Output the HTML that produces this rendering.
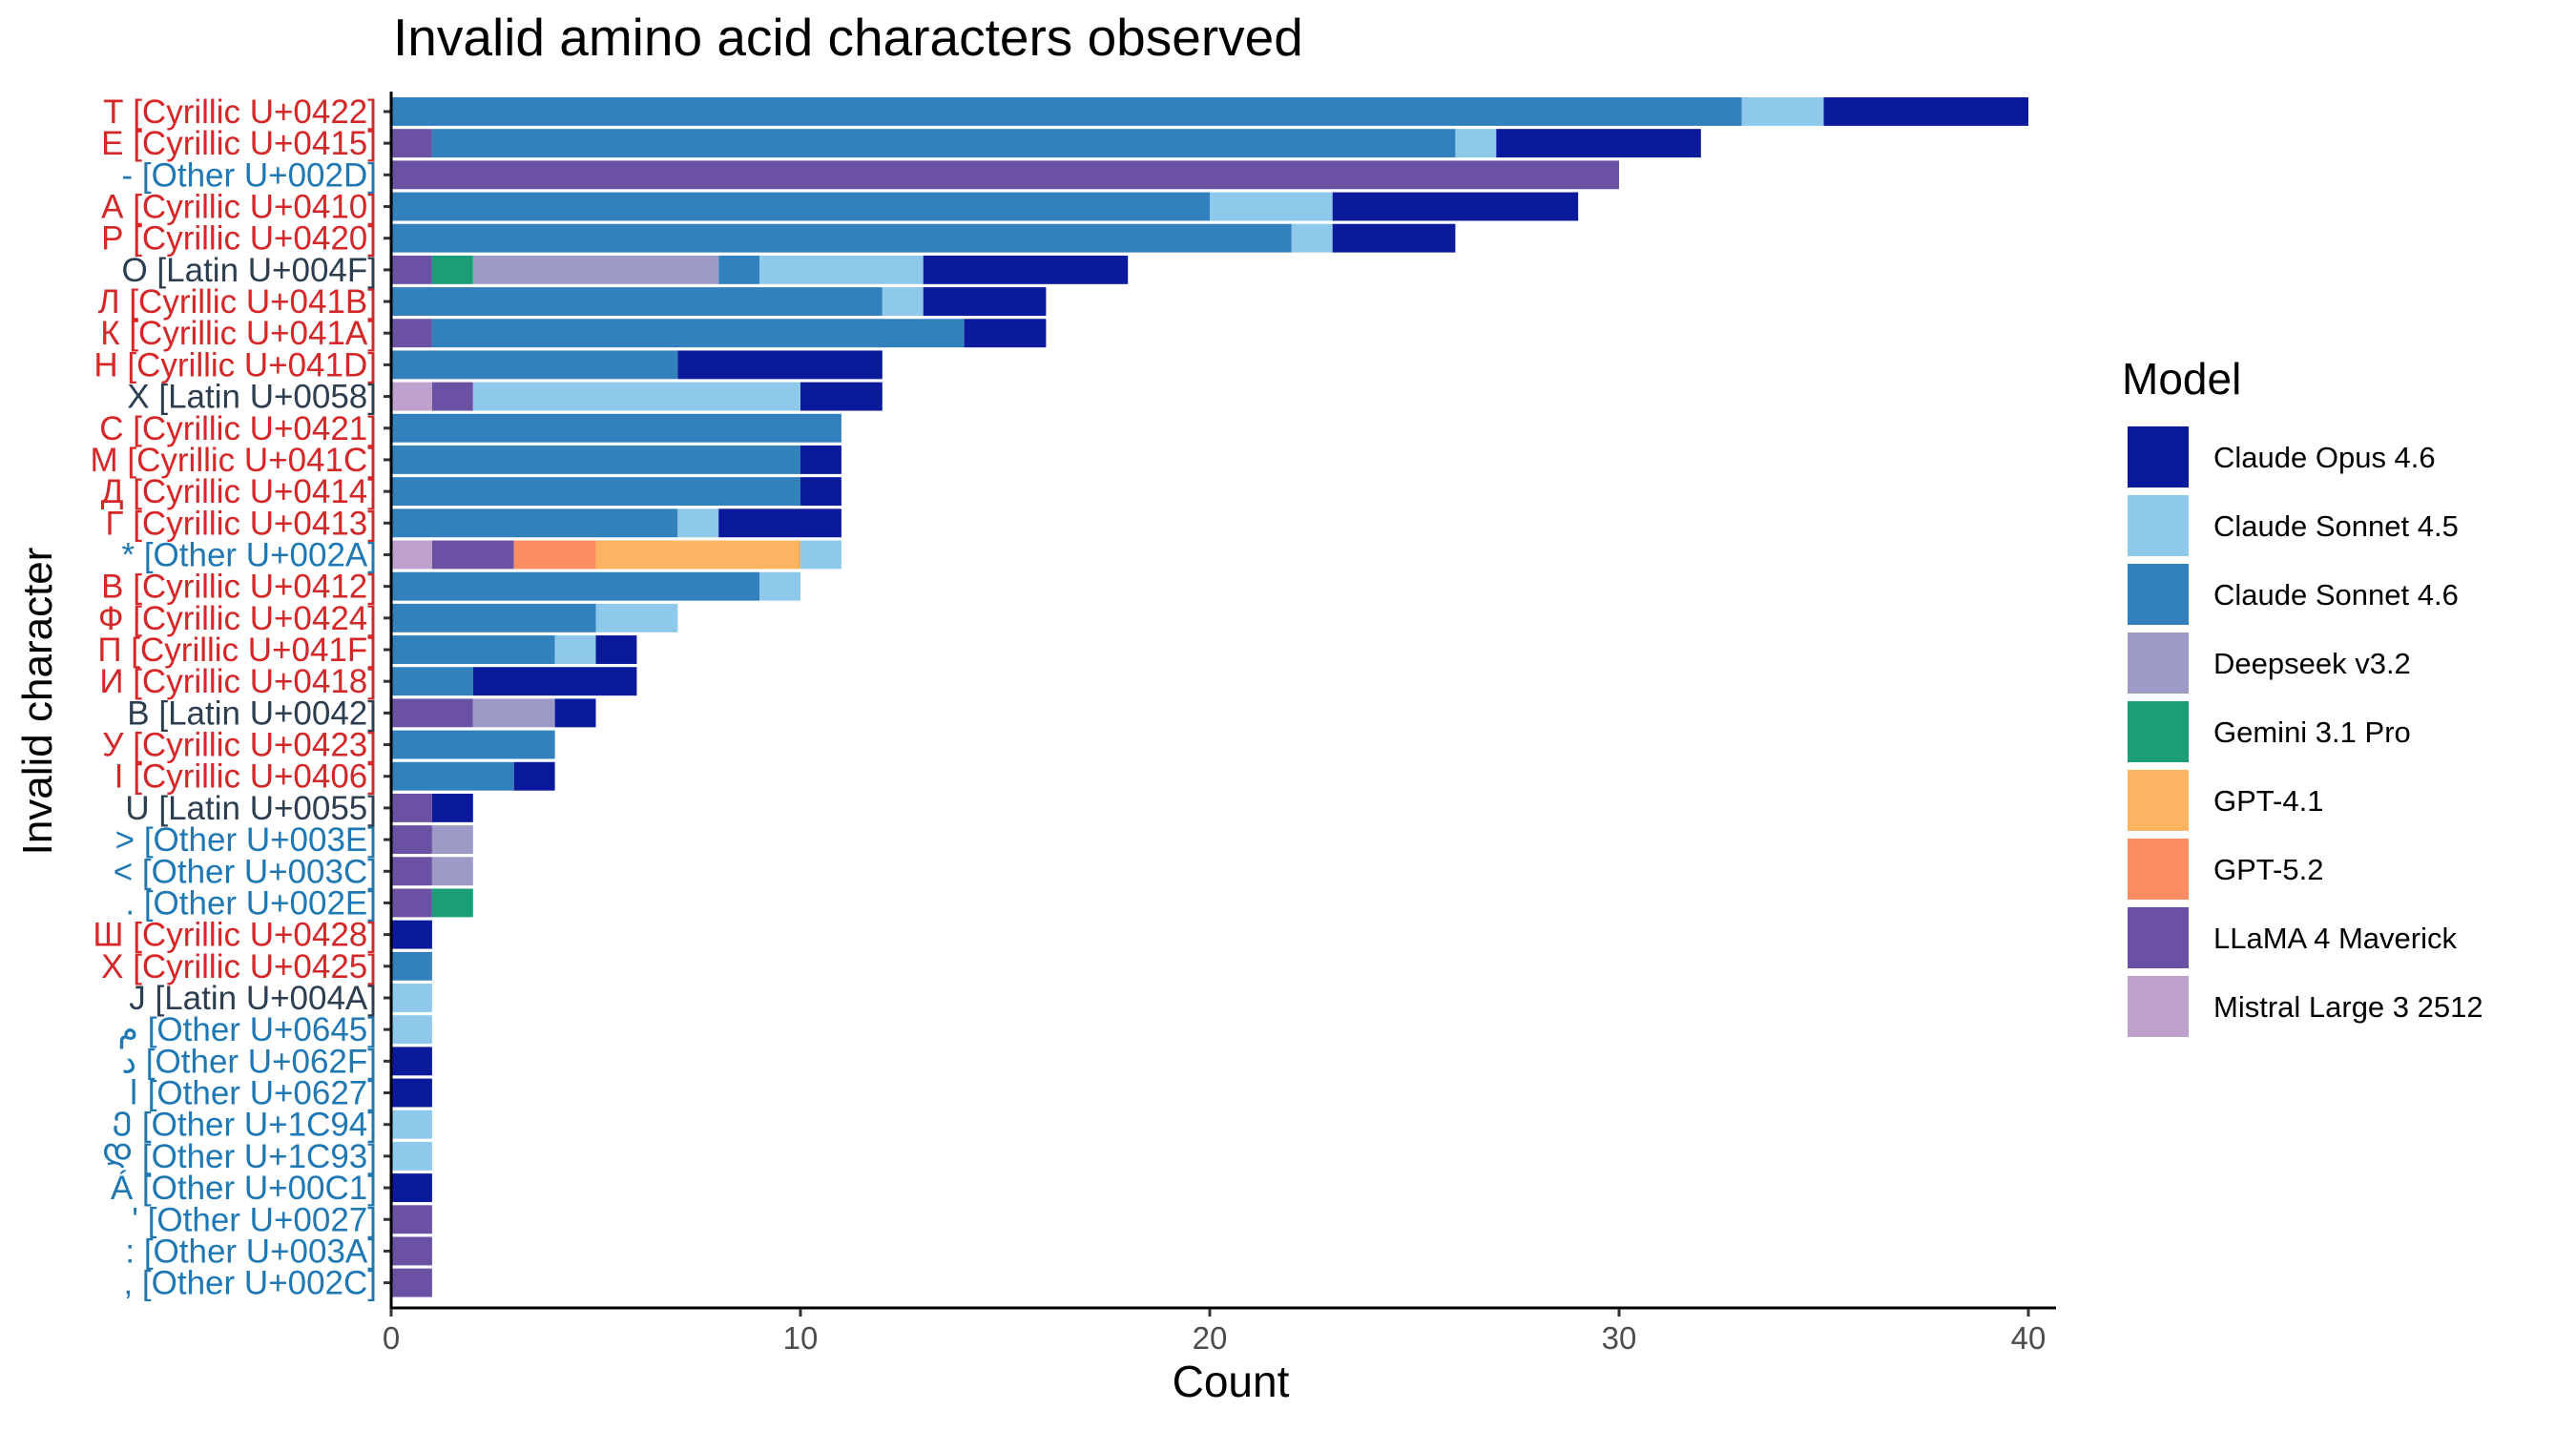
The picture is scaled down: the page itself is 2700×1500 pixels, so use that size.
<!DOCTYPE html>
<html><head><meta charset="utf-8"><style>
html,body{margin:0;padding:0;background:#fff;}
svg{display:block;font-family:"Liberation Sans","Noto Sans CJK JP","DejaVu Sans",sans-serif;}
</style></head><body>
<svg id="s" width="2700" height="1500" viewBox="0 0 2700 1500" xmlns="http://www.w3.org/2000/svg">
<text x="412" y="58" font-size="55" fill="#000">Invalid amino acid characters observed</text>
<g id="bars"></g>
<g id="labs"></g>
<line x1="410" y1="96" x2="410" y2="1372" stroke="#000" stroke-width="3"/>
<line x1="408.5" y1="1371" x2="2155" y2="1371" stroke="#000" stroke-width="3"/>
<g id="xt" font-size="33" fill="#4d4d4d" text-anchor="middle"></g>
<text x="1290" y="1464" font-size="46" text-anchor="middle" fill="#000">Count</text>
<text transform="translate(54,735) rotate(-90)" font-size="44" text-anchor="middle" fill="#000">Invalid character</text>
<text x="2224" y="413" font-size="46" fill="#000">Model</text>
<g id="leg" font-size="31" fill="#000"></g>
</svg>
<script>
var C={O:"#0a1a9b",S5:"#8ec9ec",S6:"#3281bd",D:"#9e9ac8",G:"#1b9e77",G4:"#fdb462",G5:"#fc8d62",L:"#6a51a3",M:"#bfa1cd"};
var rows=[
["Т","Cyrillic U+0422","c",[["S6",33],["S5",2],["O",5]]],
["Е","Cyrillic U+0415","c",[["L",1],["S6",25],["S5",1],["O",5]]],
["-","Other U+002D","o",[["L",30]]],
["А","Cyrillic U+0410","c",[["S6",20],["S5",3],["O",6]]],
["Р","Cyrillic U+0420","c",[["S6",22],["S5",1],["O",3]]],
["O","Latin U+004F","l",[["L",1],["G",1],["D",6],["S6",1],["S5",4],["O",5]]],
["Л","Cyrillic U+041B","c",[["S6",12],["S5",1],["O",3]]],
["К","Cyrillic U+041A","c",[["L",1],["S6",13],["O",2]]],
["Н","Cyrillic U+041D","c",[["S6",7],["O",5]]],
["X","Latin U+0058","l",[["M",1],["L",1],["S5",8],["O",2]]],
["С","Cyrillic U+0421","c",[["S6",11]]],
["М","Cyrillic U+041C","c",[["S6",10],["O",1]]],
["Д","Cyrillic U+0414","c",[["S6",10],["O",1]]],
["Г","Cyrillic U+0413","c",[["S6",7],["S5",1],["O",3]]],
["*","Other U+002A","o",[["M",1],["L",2],["G5",2],["G4",5],["S5",1]]],
["В","Cyrillic U+0412","c",[["S6",9],["S5",1]]],
["Ф","Cyrillic U+0424","c",[["S6",5],["S5",2]]],
["П","Cyrillic U+041F","c",[["S6",4],["S5",1],["O",1]]],
["И","Cyrillic U+0418","c",[["S6",2],["O",4]]],
["B","Latin U+0042","l",[["L",2],["D",2],["O",1]]],
["У","Cyrillic U+0423","c",[["S6",4]]],
["І","Cyrillic U+0406","c",[["S6",3],["O",1]]],
["U","Latin U+0055","l",[["L",1],["O",1]]],
[">","Other U+003E","o",[["L",1],["D",1]]],
["<","Other U+003C","o",[["L",1],["D",1]]],
[".","Other U+002E","o",[["L",1],["G",1]]],
["Ш","Cyrillic U+0428","c",[["O",1]]],
["Х","Cyrillic U+0425","c",[["S6",1]]],
["J","Latin U+004A","l",[["S5",1]]],
["\u0645","Other U+0645","o",[["S5",1]]],
["\u062F","Other U+062F","o",[["O",1]]],
["\u0627","Other U+0627","o",[["O",1]]],
["\u1C94","Other U+1C94","o",[["S5",1]]],
["\u1C93","Other U+1C93","o",[["S5",1]]],
["Á","Other U+00C1","o",[["O",1]]],
["'","Other U+0027","o",[["L",1]]],
[":","Other U+003A","o",[["L",1]]],
[",","Other U+002C","o",[["L",1]]]
];
var LC={c:"#d62728",l:"#2c3e50",o:"#1f78b4"};
var ns="http://www.w3.org/2000/svg";
function el(t,a,p,txt){var e=document.createElementNS(ns,t);for(var k in a)e.setAttribute(k,a[k]);if(txt!=null)e.textContent=txt;p.appendChild(e);return e;}
var X0=410,U=42.9,Y0=102,P=33.18,H=29.9;
var bars=document.getElementById("bars"),labs=document.getElementById("labs");
rows.forEach(function(r,i){
 var y=Y0+i*P,x=0;
 r[3].forEach(function(s){el("rect",{x:X0+x*U,y:y,width:s[1]*U,height:H,fill:C[s[0]]},bars);x+=s[1];});
 var cy=y+H/2;
 el("line",{x1:402,y1:cy,x2:409,y2:cy,stroke:"#333","stroke-width":3},labs);
 el("text",{x:395,y:cy+12,"font-size":35,"text-anchor":"end",fill:LC[r[2]]},labs,r[0]+" ["+r[1]+"]");
});
var xt=document.getElementById("xt");
[0,10,20,30,40].forEach(function(v){var x=X0+v*U;el("line",{x1:x,y1:1372,x2:x,y2:1380,stroke:"#333","stroke-width":3},xt);el("text",{x:x,y:1414},xt,""+v);});
var leg=document.getElementById("leg");
[["O","Claude Opus 4.6"],["S5","Claude Sonnet 4.5"],["S6","Claude Sonnet 4.6"],["D","Deepseek v3.2"],["G","Gemini 3.1 Pro"],["G4","GPT-4.1"],["G5","GPT-5.2"],["L","LLaMA 4 Maverick"],["M","Mistral Large 3 2512"]].forEach(function(l,i){
 var y=447+i*72;
 el("rect",{x:2230,y:y,width:64,height:64,fill:C[l[0]]},leg);
 el("text",{x:2320,y:y+43},leg,l[1]);
});
</script>
</body></html>
